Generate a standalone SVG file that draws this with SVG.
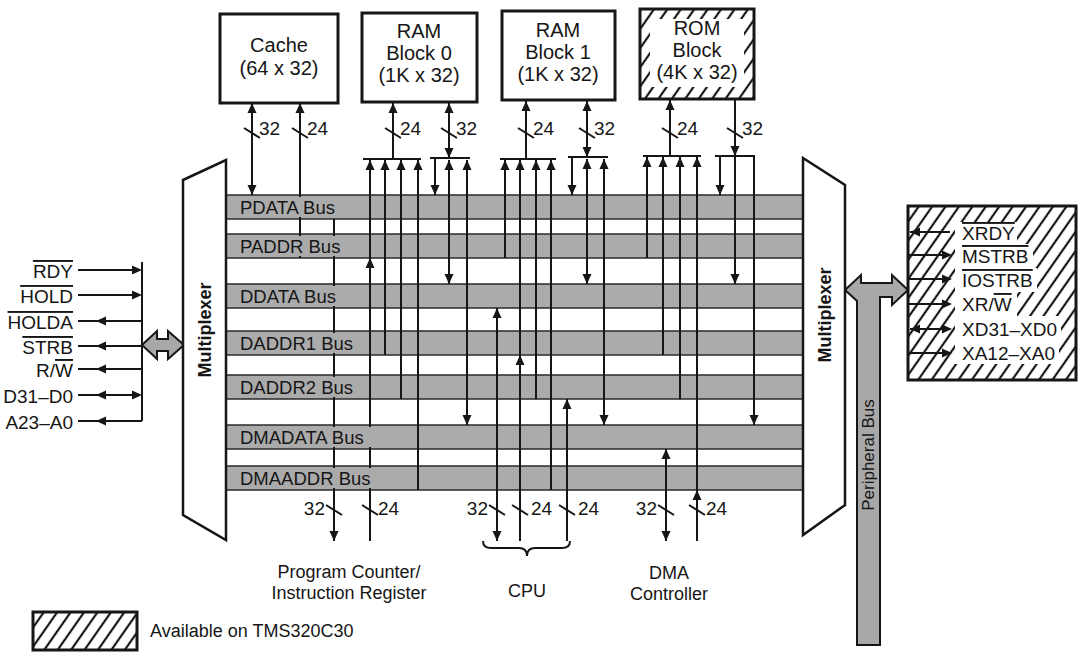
<svg xmlns="http://www.w3.org/2000/svg" width="1078" height="652" viewBox="0 0 1078 652">
<style>
text{font-family:"Liberation Sans",Arial,sans-serif;fill:#161616}
.bx{font-size:20px;text-anchor:middle}
.bt{font-size:18px;text-anchor:middle}
.lg{font-size:18px}
.bl{font-size:18.5px}
.n{font-size:19px}
.sg{font-size:19px}
.ln{stroke:#161616;stroke-width:2;fill:none}
.box{fill:#fff;stroke:#161616;stroke-width:3}
.band{fill:#ababab;stroke:#2a2a2a;stroke-width:1.5}
.lbg{fill:#ababab}
.mux{fill:#fff;stroke:#161616;stroke-width:2.5}
.gr{fill:#a8a8a8;stroke:#161616;stroke-width:2}
.ov{text-decoration:overline}
</style>
<defs>
<marker id="a" viewBox="0 0 10 10" refX="10" refY="5" markerWidth="10" markerHeight="10" markerUnits="userSpaceOnUse" orient="auto-start-reverse"><path d="M0,0.5 L10,5 L0,9.5 z" fill="#161616"/></marker>
<path id="al" d="M0,0 L10,-4.5 L10,4.5 z" fill="#161616"/>
<path id="ar" d="M0,0 L-10,-4.5 L-10,4.5 z" fill="#161616"/>
<pattern id="hatch" width="11" height="11" patternUnits="userSpaceOnUse" patternTransform="rotate(35)"><line x1="2" y1="0" x2="2" y2="11" stroke="#161616" stroke-width="2.2"/></pattern>
</defs>

<g id="buses">
<rect class="band" x="226" y="195" width="577" height="24"/>
<rect class="band" x="226" y="234" width="577" height="24"/>
<rect class="band" x="226" y="284" width="577" height="24"/>
<rect class="band" x="226" y="331" width="577" height="24"/>
<rect class="band" x="226" y="375" width="577" height="24"/>
<rect class="band" x="226" y="425" width="577" height="24"/>
<rect class="band" x="226" y="466" width="577" height="24"/>
</g>

<g id="connectors">
<!-- cache -->
<line class="ln" x1="252" y1="103" x2="252" y2="195" marker-start="url(#a)" marker-end="url(#a)"/>
<line class="ln" x1="300" y1="258" x2="300" y2="103" marker-end="url(#a)"/>
<!-- RAM0 address -->
<line class="ln" x1="393" y1="159" x2="393" y2="103" marker-end="url(#a)"/>
<line class="ln" x1="363" y1="159" x2="421" y2="159"/>
<line class="ln" x1="370" y1="258" x2="370" y2="160" marker-end="url(#a)"/>
<line class="ln" x1="385" y1="355" x2="385" y2="160" marker-end="url(#a)"/>
<line class="ln" x1="401" y1="399" x2="401" y2="160" marker-end="url(#a)"/>
<line class="ln" x1="418" y1="490" x2="418" y2="160" marker-end="url(#a)"/>
<!-- RAM0 data -->
<line class="ln" x1="449" y1="103" x2="449" y2="158" marker-start="url(#a)" marker-end="url(#a)"/>
<line class="ln" x1="430" y1="158" x2="470" y2="158"/>
<line class="ln" x1="435" y1="158" x2="435" y2="195" marker-end="url(#a)"/>
<line class="ln" x1="449" y1="284" x2="449" y2="160" marker-start="url(#a)" marker-end="url(#a)"/>
<line class="ln" x1="467" y1="425" x2="467" y2="160" marker-start="url(#a)" marker-end="url(#a)"/>
<!-- RAM1 address -->
<line class="ln" x1="526" y1="159" x2="526" y2="101" marker-end="url(#a)"/>
<line class="ln" x1="500" y1="159" x2="556" y2="159"/>
<line class="ln" x1="505" y1="258" x2="505" y2="160" marker-end="url(#a)"/>
<line class="ln" x1="520" y1="355" x2="520" y2="160" marker-end="url(#a)"/>
<line class="ln" x1="536" y1="399" x2="536" y2="160" marker-end="url(#a)"/>
<line class="ln" x1="551" y1="490" x2="551" y2="160" marker-end="url(#a)"/>
<!-- RAM1 data -->
<line class="ln" x1="587" y1="101" x2="587" y2="157" marker-start="url(#a)" marker-end="url(#a)"/>
<line class="ln" x1="568" y1="157" x2="608" y2="157"/>
<line class="ln" x1="572" y1="157" x2="572" y2="195" marker-end="url(#a)"/>
<line class="ln" x1="587" y1="284" x2="587" y2="159" marker-start="url(#a)" marker-end="url(#a)"/>
<line class="ln" x1="604" y1="425" x2="604" y2="159" marker-start="url(#a)" marker-end="url(#a)"/>
<!-- ROM address -->
<line class="ln" x1="670" y1="156" x2="670" y2="100" marker-end="url(#a)"/>
<line class="ln" x1="643" y1="156" x2="701" y2="156"/>
<line class="ln" x1="647" y1="258" x2="647" y2="157" marker-end="url(#a)"/>
<line class="ln" x1="663" y1="355" x2="663" y2="157" marker-end="url(#a)"/>
<line class="ln" x1="680" y1="399" x2="680" y2="157" marker-end="url(#a)"/>
<line class="ln" x1="697" y1="490" x2="697" y2="157" marker-end="url(#a)"/>
<!-- ROM data -->
<line class="ln" x1="735" y1="100" x2="735" y2="156" marker-end="url(#a)"/>
<line class="ln" x1="715" y1="156" x2="755" y2="156"/>
<line class="ln" x1="720" y1="156" x2="720" y2="195" marker-end="url(#a)"/>
<line class="ln" x1="735" y1="156" x2="735" y2="284" marker-end="url(#a)"/>
<line class="ln" x1="754" y1="156" x2="754" y2="425" marker-end="url(#a)"/>
<!-- PC / IR -->
<line class="ln" x1="334" y1="219" x2="334" y2="541" marker-end="url(#a)"/>
<line class="ln" x1="370" y1="541" x2="370" y2="258" marker-end="url(#a)"/>
<!-- CPU -->
<line class="ln" x1="497" y1="541" x2="497" y2="308" marker-start="url(#a)" marker-end="url(#a)"/>
<line class="ln" x1="520" y1="541" x2="520" y2="355" marker-end="url(#a)"/>
<line class="ln" x1="567" y1="541" x2="567" y2="399" marker-end="url(#a)"/>
<!-- DMA -->
<line class="ln" x1="666" y1="541" x2="666" y2="449" marker-start="url(#a)" marker-end="url(#a)"/>
<line class="ln" x1="697" y1="541" x2="697" y2="490" marker-end="url(#a)"/>
<!-- bus-width slashes -->
<g class="ln">
<line x1="244" y1="128" x2="260" y2="138"/>
<line x1="292" y1="128" x2="308" y2="138"/>
<line x1="385" y1="128" x2="401" y2="138"/>
<line x1="441" y1="128" x2="457" y2="138"/>
<line x1="518" y1="128" x2="534" y2="138"/>
<line x1="579" y1="128" x2="595" y2="138"/>
<line x1="662" y1="128" x2="678" y2="138"/>
<line x1="727" y1="128" x2="743" y2="138"/>
<line x1="326" y1="505" x2="342" y2="515"/>
<line x1="362" y1="505" x2="378" y2="515"/>
<line x1="489" y1="505" x2="505" y2="515"/>
<line x1="512" y1="505" x2="528" y2="515"/>
<line x1="559" y1="505" x2="575" y2="515"/>
<line x1="658" y1="505" x2="674" y2="515"/>
<line x1="689" y1="505" x2="705" y2="515"/>
</g>
<!-- CPU brace -->
<path class="ln" d="M483,541 Q483,548 491,548 L519,548 Q527,548 527,556 Q527,548 535,548 L562,548 Q570,548 570,541"/>
<!-- left control signals -->
<g class="ln">
<line x1="78" y1="270" x2="140" y2="270"/>
<line x1="78" y1="295" x2="140" y2="295"/>
<line x1="78" y1="321" x2="142" y2="321"/>
<line x1="78" y1="346" x2="142" y2="346"/>
<line x1="78" y1="369" x2="142" y2="369"/>
<line x1="78" y1="395" x2="140" y2="395"/>
<line x1="78" y1="421" x2="142" y2="421"/>
<line x1="142" y1="262" x2="142" y2="421"/>
</g>
<use href="#ar" x="142" y="270"/>
<use href="#ar" x="142" y="295"/>
<use href="#al" x="96" y="321"/>
<use href="#al" x="96" y="346"/>
<use href="#al" x="96" y="369"/>
<use href="#al" x="96" y="395"/>
<use href="#ar" x="142" y="395"/>
<use href="#al" x="96" y="421"/>
<path class="gr" d="M142,345 L157,331 L157,339 L168,339 L168,331 L184,345 L168,359 L168,351 L157,351 L157,359 Z"/>
<!-- peripheral bus -->
<path class="gr" d="M845,290 L861,275 L861,283 L892,283 L892,275 L908,290 L892,305 L892,297 L880,297 L880,645 L857,645 L857,301 Z"/>
</g>

<g id="bus-labels">
<rect class="lbg" x="229" y="197" width="124" height="20"/>
<rect class="lbg" x="229" y="236" width="128" height="20"/>
<rect class="lbg" x="229" y="286" width="126" height="20"/>
<rect class="lbg" x="229" y="333" width="137" height="20"/>
<rect class="lbg" x="229" y="377" width="137" height="20"/>
<rect class="lbg" x="229" y="427" width="148" height="20"/>
<rect class="lbg" x="229" y="468" width="148" height="20"/>
<text class="bl" x="240" y="214">PDATA Bus</text>
<text class="bl" x="240" y="253">PADDR Bus</text>
<text class="bl" x="240" y="303">DDATA Bus</text>
<text class="bl" x="240" y="350">DADDR1 Bus</text>
<text class="bl" x="240" y="394">DADDR2 Bus</text>
<text class="bl" x="240" y="444">DMADATA Bus</text>
<text class="bl" x="240" y="485">DMAADDR Bus</text>
</g>

<g id="width-labels">
<text class="n" x="259" y="135">32</text>
<text class="n" x="307" y="135">24</text>
<text class="n" x="400" y="135">24</text>
<text class="n" x="456" y="135">32</text>
<text class="n" x="533" y="135">24</text>
<text class="n" x="594" y="135">32</text>
<text class="n" x="677" y="135">24</text>
<text class="n" x="742" y="135">32</text>
<text class="n" x="325" y="515" text-anchor="end">32</text>
<text class="n" x="378" y="515">24</text>
<text class="n" x="488" y="515" text-anchor="end">32</text>
<text class="n" x="531" y="515">24</text>
<text class="n" x="578" y="515">24</text>
<text class="n" x="657" y="515" text-anchor="end">32</text>
<text class="n" x="706" y="515">24</text>
</g>

<g id="cache"><rect class="box" x="220" y="14" width="118" height="89"/>
<text class="bx" x="279" y="52">Cache</text><text class="bx" x="279" y="75">(64 x 32)</text></g>
<g id="ram0"><rect class="box" x="362" y="13" width="115" height="89"/>
<text class="bx" x="419" y="38">RAM</text><text class="bx" x="419" y="60">Block 0</text><text class="bx" x="419" y="82">(1K x 32)</text></g>
<g id="ram1"><rect class="box" x="502" y="11" width="113" height="89"/>
<text class="bx" x="558" y="37">RAM</text><text class="bx" x="558" y="59">Block 1</text><text class="bx" x="558" y="81">(1K x 32)</text></g>
<g id="rom"><rect x="640" y="9" width="114" height="90" fill="url(#hatch)"/>
<rect x="650" y="19" width="94" height="68" fill="#fff"/>
<rect x="640" y="9" width="114" height="90" fill="none" stroke="#161616" stroke-width="3"/>
<text class="bx" x="697" y="35">ROM</text><text class="bx" x="697" y="57">Block</text><text class="bx" x="697" y="79">(4K x 32)</text></g>

<g id="mux-left"><path class="mux" d="M183,180 L226,160 L226,540 L183,515 Z"/>
<text x="211" y="330" font-size="18" font-weight="bold" text-anchor="middle" transform="rotate(-90 211 330)">Multiplexer</text></g>
<g id="mux-right"><path class="mux" d="M803,158 L845,185 L845,505 L803,535 Z"/>
<text x="831" y="315" font-size="18" font-weight="bold" text-anchor="middle" transform="rotate(-90 831 315)">Multiplexer</text></g>
<g id="peripheral-bus"><text x="874" y="455" font-size="17" text-anchor="middle" transform="rotate(-90 874 455)">Peripheral Bus</text></g>

<g id="pc"><text class="bt" x="349" y="578">Program Counter/</text><text class="bt" x="349" y="599">Instruction Register</text></g>
<g id="cpu"><text class="bt" x="527" y="597">CPU</text></g>
<g id="dma"><text class="bt" x="669" y="579">DMA</text><text class="bt" x="669" y="600">Controller</text></g>

<g id="ext-left" class="sg">
<text x="73" y="278" text-anchor="end" class="ov">RDY</text>
<text x="73" y="303" text-anchor="end" class="ov">HOLD</text>
<text x="73" y="329" text-anchor="end" class="ov">HOLDA</text>
<text x="73" y="354" text-anchor="end" class="ov">STRB</text>
<text x="73" y="377" text-anchor="end">R/<tspan class="ov">W</tspan></text>
<text x="73" y="403" text-anchor="end">D31–D0</text>
<text x="73" y="429" text-anchor="end">A23–A0</text>
</g>

<g id="ext-right">
<rect x="908" y="206" width="168" height="174" fill="url(#hatch)"/>
<g fill="#fff">
<rect x="955" y="222" width="62" height="22"/>
<rect x="955" y="244" width="78" height="24"/>
<rect x="955" y="268" width="82" height="24"/>
<rect x="955" y="292" width="62" height="24"/>
<rect x="955" y="316" width="106" height="24"/>
<rect x="955" y="340" width="104" height="24"/>
</g>
<rect x="908" y="206" width="168" height="174" fill="none" stroke="#161616" stroke-width="3"/>
<g class="ln">
<line x1="910" y1="232" x2="950" y2="232"/>
<line x1="908" y1="255" x2="950" y2="255"/>
<line x1="908" y1="279" x2="950" y2="279"/>
<line x1="908" y1="304" x2="950" y2="304"/>
<line x1="910" y1="329" x2="950" y2="329"/>
<line x1="908" y1="353" x2="950" y2="353"/>
</g>
<use href="#al" x="910" y="232"/>
<use href="#ar" x="952" y="255"/>
<use href="#ar" x="952" y="279"/>
<use href="#ar" x="952" y="304"/>
<use href="#al" x="910" y="329"/>
<use href="#ar" x="952" y="329"/>
<use href="#ar" x="952" y="353"/>
<g class="sg">
<text x="962" y="240" class="ov">XRDY</text>
<text x="962" y="263" class="ov">MSTRB</text>
<text x="962" y="287" class="ov">IOSTRB</text>
<text x="962" y="311">XR/<tspan class="ov">W</tspan></text>
<text x="962" y="336">XD31–XD0</text>
<text x="962" y="360">XA12–XA0</text>
</g>
</g>

<g id="legend">
<rect x="33" y="612" width="104" height="38" fill="url(#hatch)" stroke="#161616" stroke-width="3"/>
<text class="lg" x="150" y="637">Available on  TMS320C30</text>
</g>
</svg>
